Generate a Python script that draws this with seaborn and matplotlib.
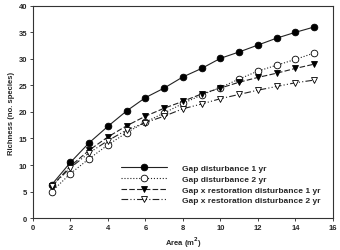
import matplotlib
matplotlib.use("Agg")
import matplotlib.pyplot as plt
import seaborn as sns
import pandas as pd

# Data
area = list(range(1, 16))
gap_1yr = [6.3, 10.5, 14.2, 17.3, 20.2, 22.7, 24.5, 26.6, 28.2, 30.1, 31.3, 32.6, 33.9, 35.0, 36.0]
gap_2yr = [5.0, 8.4, 11.2, 13.8, 16.1, 18.1, 19.8, 21.6, 23.2, 24.6, 26.2, 27.7, 28.8, 29.9, 31.1]
gapx_1yr = [6.0, 9.8, 12.8, 15.3, 17.4, 19.2, 20.7, 22.0, 23.4, 24.5, 25.6, 26.5, 27.3, 28.2, 29.0]
gapx_2yr = [6.0, 9.5, 12.3, 14.6, 16.6, 18.0, 19.2, 20.6, 21.5, 22.5, 23.3, 24.1, 24.8, 25.5, 26.0]

labels = [
    "Gap disturbance 1 yr",
    "Gap disturbance 2 yr",
    "Gap x restoration disturbance 1 yr",
    "Gap x restoration disturbance 2 yr",
]
series = [gap_1yr, gap_2yr, gapx_1yr, gapx_2yr]

sns.set_style("ticks")
plt.rcParams["font.family"] = ["Liberation Sans", "DejaVu Sans"]
plt.rcParams["font.weight"] = "bold"

fig = plt.figure(figsize=(3.4, 2.51), dpi=100)
ax = fig.add_axes([0.097, 0.127, 0.882, 0.846])

styles = [
    dict(marker="o", linestyle="-", mfc="black"),
    dict(marker="o", linestyle=":", mfc="white"),
    dict(marker="v", linestyle=(0, (5, 2)), mfc="black"),
    dict(marker="v", linestyle=(0, (6, 2, 1, 2, 1, 2)), mfc="white"),
]

for vals, lab, st in zip(series, labels, styles):
    df = pd.DataFrame({"area": area, "rich": vals})
    sns.lineplot(data=df, x="area", y="rich", ax=ax, label=lab, color="#222222",
                 linewidth=0.8, marker=st["marker"], linestyle=st["linestyle"],
                 markersize=4.8, markerfacecolor=st["mfc"], markeredgecolor="black",
                 markeredgewidth=0.6)

ax.set_xlim(0, 16)
ax.set_ylim(0, 40)
ax.set_xticks(range(0, 17, 2))
ax.set_yticks(range(0, 41, 5))
ax.tick_params(labelsize=5.5, length=2, width=0.6, pad=2)
for s in ax.spines.values():
    s.set_linewidth(0.8)
    s.set_color("#333333")
ax.set_xlabel("Area (m$^2$)", fontsize=5.5, fontweight="bold", labelpad=3)
ax.set_ylabel("Richness (no. species)", fontsize=5.5, fontweight="bold", labelpad=3)

leg = ax.legend(loc="lower right", bbox_to_anchor=(0.985, 0.03), frameon=False,
                fontsize=6, handlelength=5.6, handletextpad=1.8, labelspacing=0.35)

fig.savefig("out.png", dpi=100)
